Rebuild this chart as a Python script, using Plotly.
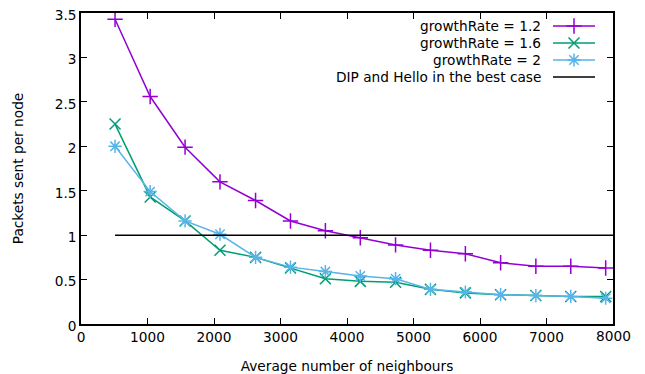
import plotly.graph_objects as go

neighbours = [512, 1040, 1565, 2090, 2625, 3150, 3675, 4200, 4730, 5255, 5780, 6310, 6840, 7365, 7890]
rate_1_2 = [3.43, 2.56, 1.99, 1.60, 1.39, 1.16, 1.05, 0.97, 0.89, 0.83, 0.79, 0.69, 0.65, 0.65, 0.63]
rate_1_6 = [2.25, 1.43, 1.16, 0.83, 0.75, 0.63, 0.51, 0.48, 0.47, 0.39, 0.35, 0.33, 0.32, 0.31, 0.31]
rate_2 = [2.00, 1.49, 1.16, 1.01, 0.75, 0.64, 0.59, 0.54, 0.51, 0.39, 0.36, 0.33, 0.32, 0.31, 0.29]
best_case_x = [512, 8000]
best_case_y = [1, 1]
x_ticks = [0, 1000, 2000, 3000, 4000, 5000, 6000, 7000, 8000]
x_tick_labels = ["0", "1000", "2000", "3000", "4000", "5000", "6000", "7000", "8000"]
y_ticks = [0, 0.5, 1, 1.5, 2, 2.5, 3, 3.5]
y_tick_labels = ["0", "0.5", "1", "1.5", "2", "2.5", "3", "3.5"]

names = ["growthRate = 1.2", "growthRate = 1.6", "growthRate = 2", "DIP and Hello in the best case"]
colors = ["#9400D3", "#009E73", "#56B4E9", "#000000"]
symbols = ["cross-thin-open", "x-thin-open", "asterisk-open", None]
series = [rate_1_2, rate_1_6, rate_2]

FONT = "DejaVu Sans"
FS = 13.7
fig = go.Figure()

for vals, col, sym, nm in zip(series, colors, symbols, names):
    fig.add_trace(go.Scatter(
        x=neighbours, y=vals, mode="lines+markers", name=nm,
        line=dict(color=col, width=1.5),
        marker=dict(symbol=sym, size=11, color=col, line=dict(color=col, width=1.5)),
        showlegend=False, cliponaxis=False))

fig.add_trace(go.Scatter(x=best_case_x, y=best_case_y, mode="lines", name=names[3],
                         line=dict(color="black", width=1.5), showlegend=False))

# custom gnuplot-style legend (text right, sample on the right) on a pixel overlay axis
rows = [26, 43, 60, 77]
for i, (nm, col, sym) in enumerate(zip(names, colors, symbols)):
    y = rows[i]
    fig.add_trace(go.Scatter(x=[553, 595], y=[y, y], xaxis="x2", yaxis="y2", mode="lines",
                             line=dict(color=col, width=1.5), showlegend=False, hoverinfo="skip"))
    if sym:
        fig.add_trace(go.Scatter(x=[574], y=[y], xaxis="x2", yaxis="y2", mode="markers",
                                 marker=dict(symbol=sym, size=11, color=col, line=dict(color=col, width=1.5)),
                                 showlegend=False, hoverinfo="skip"))
    fig.add_annotation(x=543, y=y, xref="x2", yref="y2", text=nm, showarrow=False,
                       xanchor="right", yanchor="middle", font=dict(family=FONT, size=FS, color="black"))

# last x tick label drawn as annotation (the built-in one gets dropped at the edge)
fig.add_annotation(x=x_ticks[-1], y=0, xref="x", yref="y", text=x_tick_labels[-1], showarrow=False,
                   xanchor="center", yanchor="middle", yshift=-12,
                   font=dict(family=FONT, size=FS, color="black"))
shown_x_labels = x_tick_labels[:-1] + [""]

axis_common = dict(showline=True, linecolor="black", linewidth=1.5, mirror="ticks",
                   ticks="inside", ticklen=6, tickwidth=1.2, tickcolor="black",
                   showgrid=False, zeroline=False, automargin=False,
                   ticklabeloverflow="allow",
                   tickfont=dict(family=FONT, size=FS, color="black"))

# page has an 8px body margin; figure is sized to fill the remaining window
fig.update_layout(
    width=637, height=366,
    margin=dict(l=73, r=32, t=5, b=50, autoexpand=False),
    paper_bgcolor="white", plot_bgcolor="white",
    font=dict(family=FONT, size=FS, color="black"),
    xaxis=dict(range=[0, 8000], tickmode="array", tickvals=x_ticks, ticktext=shown_x_labels,
               title=dict(text="Average number of neighbours", font=dict(family=FONT, size=FS), standoff=18),
               **axis_common),
    yaxis=dict(range=[0, 3.5], tickmode="array", tickvals=y_ticks, ticktext=y_tick_labels,
               ticklabelshift=2,
               title=dict(text="Packets sent per node", font=dict(family=FONT, size=FS), standoff=28),
               **axis_common),
    xaxis2=dict(range=[81, 613], overlaying="x", visible=False, fixedrange=True),
    yaxis2=dict(range=[324, 13], overlaying="y", visible=False, fixedrange=True),
)

fig.write_html("out.html")
